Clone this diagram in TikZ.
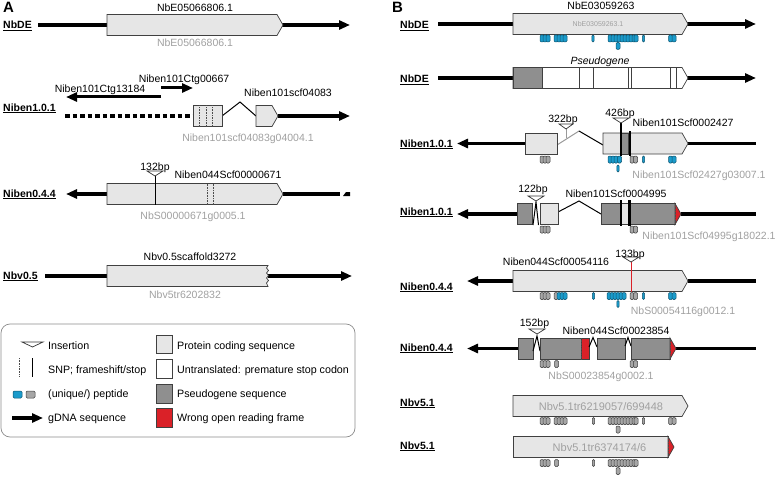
\documentclass[tikz,border=0pt]{standalone}
\usepackage{fontspec}
\setmainfont{Liberation Sans}
\usetikzlibrary{arrows.meta}
\definecolor{cds}{HTML}{E6E6E6}
\definecolor{pseudo}{HTML}{8F8F8F}
\definecolor{wrongorf}{HTML}{DA2128}
\definecolor{pepblue}{HTML}{1B9BCB}
\definecolor{greytxt}{HTML}{A0A0A0}
% gene model with pointed end, plain exon, peptide hits
\newcommand\genebox[4][]{\draw[box,#1] (#2,#4-10.5) -- (#3-6,#4-10.5) -- (#3,#4) -- (#3-6,#4+10.5) -- (#2,#4+10.5) -- cycle;}
\newcommand\exon[4][]{\draw[box,#1] (#2,#4-10.5) rectangle (#3,#4+10.5);}
\newcommand\peps[4][2]{\foreach \px in {#4} {\draw[#2] (\px-#1,#3-3.5) rectangle (\px+#1,#3+3.5);}}
\newcommand\insmark[3][8]{\draw[ins] (#2-#1,#3) -- (#2+#1,#3) -- (#2,#3+5) -- cycle;}
\begin{document}
\begin{tikzpicture}[x=1pt,y=-1pt,
  font=\fontsize{10.5}{12}\selectfont,
  every node/.style={inner sep=0pt,anchor=base},
  box/.style={draw=black!75,line width=0.7pt,fill=cds},
  gdna/.style={line width=3.3pt},
  gtip/.style={-{Triangle[length=11pt,width=9pt]}},
  intron/.style={line width=1pt},
  ins/.style={draw=black!80,line width=0.7pt,fill=white},
  snp/.style={black!70,densely dotted,line width=0.6pt},
  stopline/.style={line width=0.8pt},
  fsline/.style={line width=2.2pt},
  lbl/.style={anchor=base west,font=\fontsize{10.5}{12}\selectfont\bfseries},
  leg/.style={anchor=base west,font=\fontsize{10.7}{13}\selectfont},
  gname/.style={text=greytxt},
  pepb/.style={draw=pepblue!55!black,fill=pepblue,line width=0.5pt,rounded corners=1.2pt},
  pepg/.style={draw=black!75,fill=black!35,line width=0.5pt,rounded corners=1.2pt}]
\useasboundingbox (0,0) rectangle (778,476);

%% panel A
\node[anchor=base west,font=\fontsize{15}{18}\selectfont\bfseries] (panelA) at (3,13) {A};

% NbDE
\draw[gdna,gtip] (38,25) -- (350,25);
\genebox{107}{283}{25}
\node[lbl] (rowA1) at (3,29) {\underline{NbDE}};
\node (topA1) at (195,12) {NbE05066806.1};
\node[gname] (gA1) at (195,47) {NbE05066806.1};

% Niben1.0.1
\draw[gdna,dash pattern=on 4.5pt off 3pt] (65,116) -- (193,116);
\draw[intron] (222,116) -- (240,102) -- (256,116);
\draw[gdna,gtip] (278,116) -- (350,116);
\exon{193}{222}{116}
\foreach \sx in {199,206.5,212} \draw[snp] (\sx,105.5) -- (\sx,126.5);
\genebox{256}{278}{116}
\draw[gdna,gtip,line width=3pt] (161,97) -- (66,97);
\draw[gdna,gtip,line width=3pt] (161,88) -- (193,88);
\node[lbl] (rowA2) at (3,111) {\underline{Niben1.0.1}};
\node (ctgL) at (100,93) {Niben101Ctg13184};
\node (ctgR) at (184,83) {Niben101Ctg00667};
\node (scfA2) at (288,97) {Niben101scf04083};
\node[gname] (gA2) at (248,141) {Niben101scf04083g04004.1};

% Niben0.4.4
\draw[gdna,gtip] (107,194) -- (66,194);
\draw[gdna] (283,194) -- (340,194);
\fill (343,196) -- (346,192) -- (350,192) -- (350,196) -- cycle;
\genebox{107}{283}{194}
\draw[stopline] (155,176) -- (155,204.5);
\foreach \sx in {207,213} \draw[snp] (\sx,183.5) -- (\sx,204.5);
\insmark[8]{155}{171}
\node[lbl] (rowA3) at (3,197) {\underline{Niben0.4.4}};
\node (bpA3) at (155,170) {132bp};
\node (scfA3) at (228,178) {Niben044Scf00000671};
\node[gname] (gA3) at (193,219) {NbS00000671g0005.1};

% Nbv0.5
\draw[gdna] (45,276) -- (107,276);
\draw[gdna,gtip] (268,276) -- (352,276);
\draw[box] (107,265.5) -- (268,265.5) -- (266.5,268) -- (268.5,270.5) -- (266.5,273) -- (268.5,275.5)
  -- (266.5,278) -- (268.5,280.5) -- (266.5,283) -- (268,286.5) -- (107,286.5) -- cycle;
\node[lbl] (rowA4) at (3,279) {\underline{Nbv0.5}};
\node (scfA4) at (190,260) {Nbv0.5scaffold3272};
\node[gname] (gA4) at (185,298) {Nbv5tr6202832};

% legend
\draw[black!45,rounded corners=9pt,line width=0.7pt] (1,324) rectangle (355,437);
\draw[ins] (22,342) -- (43,342) -- (32.5,347) -- cycle;
\draw[snp] (19,358) -- (19,377);
\draw[stopline] (32,358) -- (32,377);
\peps[4.5]{pepb}{394.5}{17.5}
\peps[4.5]{pepg}{394.5}{30.5}
\draw[gdna,gtip] (12,418) -- (43,418);
\draw[box] (156,335) rectangle (172,353);
\draw[box,fill=white] (156,359) rectangle (172,378);
\draw[box,fill=pseudo] (156,384) rectangle (172,403);
\draw[box,fill=wrongorf] (156,408) rectangle (172,427);
\node[leg] (kIns) at (48,349) {Insertion};
\node[leg] (kSnp) at (48,373) {SNP; frameshift/stop};
\node[leg] (kPep) at (48,397) {(unique/) peptide};
\node[leg] (kDna) at (48,421) {gDNA sequence};
\node[leg] (kCds) at (177,349) {Protein coding sequence};
\node[leg] (kUtr) at (177,373) {Untranslated: premature stop codon};
\node[leg] (kPsd) at (177,397) {Pseudogene sequence};
\node[leg] (kOrf) at (177,421) {Wrong open reading frame};

%% panel B
\node[anchor=base west,font=\fontsize{15}{18}\selectfont\bfseries] (panelB) at (392,13) {B};

% NbDE
\draw[gdna,gtip] (438,24) -- (756,24);
\genebox{513}{688}{24}
\peps{pepb}{38.5}{542,545,548, 556,559,562,565, 610,613,616,619,622,625,628,631,634,636, 670.5,674}
\peps[1.2]{pepb}{38.5}{593,643.5}
\peps{pepb}{46}{618}
\node[lbl] (rowB1) at (400,29) {\underline{NbDE}};
\node (scfB1) at (601,10) {NbE03059263};
\node[gname,font=\fontsize{7}{8}\selectfont] (gB1) at (598,27) {NbE03059263.1};

% NbDE pseudogene
\draw[gdna,gtip] (438,78) -- (756,78);
\genebox[fill=white]{513}{688}{78}
\exon[fill=pseudo]{513}{542}{78}
\foreach \vx in {579,593,628,631,670,676} \draw[black!75,line width=0.7pt] (\vx,67.5) -- (\vx,88.5);
\node[lbl] (rowB2) at (400,83) {\underline{NbDE}};
\node[font=\fontsize{10.5}{12}\selectfont\itshape] (psB2) at (600,65) {Pseudogene};

% Niben1.0.1 (Scf0002427)
\draw[gdna,gtip] (525,143.5) -- (457,143.5);
\draw[gdna] (688,143.5) -- (756,143.5);
\draw[intron,black!40] (557,145) -- (579,131);
\draw[intron] (579,131) -- (603,145);
\draw[black!40,line width=1pt] (566,129) -- (566,138);
\exon{525}{557}{143.5}
\genebox{603}{688}{143.5}
\exon[fill=pseudo]{621}{628}{143.5}
\draw[fsline] (621,123) -- (621,155.5);
\draw[fsline] (630,131) -- (630,155.5);
\insmark[7]{566}{124}
\insmark[8]{621}{118}
\peps{pepg}{159.5}{542,545,548, 632,635.5}
\peps{pepb}{159.5}{610,613,616,619.5, 670.5,674}
\peps[1.2]{pepb}{159.5}{643.5}
\peps[1.2]{pepb}{168.5}{618}
\node[lbl] (rowB3) at (400,147) {\underline{Niben1.0.1}};
\node (bpB3a) at (563,122) {322bp};
\node (bpB3b) at (620,116.5) {426bp};
\node (scfB3) at (683,126) {Niben101Scf0002427};
\node[gname] (gB3) at (699,178) {Niben101Scf02427g03007.1};

% Niben1.0.1 (Scf0004995)
\draw[gdna,gtip] (517,214) -- (457,214);
\draw[gdna] (681,214) -- (756,214);
\draw[intron] (558,212) -- (579,201) -- (601,214);
\exon[fill=pseudo]{517}{532}{214}
\draw[intron] (533,225) -- (536,202) -- (538.5,225);
\exon{540}{558}{214}
\exon[fill=pseudo]{601}{675}{214}
\exon{621}{629}{214}
\draw[box,fill=wrongorf] (675,203.5) -- (681,214) -- (675,224.5) -- cycle;
\draw[snp] (675,203.5) -- (675,224.5);
\draw[fsline] (621,200) -- (621,225.5);
\draw[fsline] (629.5,200) -- (629.5,225.5);
\insmark[8]{536}{196}
\peps{pepg}{229.5}{542,545,548, 632,635.5}
\node[lbl] (rowB4) at (400,215) {\underline{Niben1.0.1}};
\node (bpB4) at (533,192) {122bp};
\node (scfB4) at (616,197) {Niben101Scf0004995};
\node[gname] (gB4) at (709,239) {Niben101Scf04995g18022.1};

% Niben0.4.4 (Scf00054116)
\draw[gdna,gtip] (513,281) -- (467,281);
\draw[gdna] (688,281) -- (756,281);
\genebox{513}{688}{281}
\draw[wrongorf,line width=0.8pt] (631,262) -- (631,291.5);
\insmark[8]{631}{257}
\peps{pepg}{296}{542,545,548, 556, 632,635.5}
\peps{pepb}{296}{559,562,565, 609,612,615,618,621,624, 670.5,674}
\peps[1.2]{pepb}{296}{593.5,643.5}
\peps[1.2]{pepb}{304}{618}
\node[lbl] (rowB5) at (400,290) {\underline{Niben0.4.4}};
\node (bpB5) at (630,257) {133bp};
\node (scfB5) at (556,265) {Niben044Scf00054116};
\node[gname] (gB5) at (683,314) {NbS00054116g0012.1};

% Niben0.4.4 (Scf00023854)
\draw[gdna,gtip] (518,348.5) -- (467,348.5);
\draw[gdna] (676,348.5) -- (756,348.5);
\exon[fill=pseudo]{518}{533}{348.5}
\draw[intron] (533,351) -- (537,336) -- (540,351);
\exon[fill=pseudo]{540}{581}{348.5}
\exon[fill=wrongorf]{581}{589}{348.5}
\draw[snp] (581,338) -- (581,359);
\draw[intron] (589,347) -- (593,337.5) -- (597,347);
\exon[fill=pseudo]{597}{625}{348.5}
\draw[intron] (625,346) -- (628,337.5) -- (631,346);
\exon[fill=pseudo]{631}{670}{348.5}
\draw[box,fill=wrongorf] (670,338) -- (676,348.5) -- (670,359) -- cycle;
\draw[snp] (670,338) -- (670,359);
\insmark[8]{537}{329}
\peps{pepg}{364}{542,545,548, 556.5, 632,635.5}
\node[lbl] (rowB6) at (400,351) {\underline{Niben0.4.4}};
\node (bpB6) at (534.5,326) {152bp};
\node (scfB6) at (616,334) {Niben044Scf00023854};
\node[gname] (gB6) at (601,379) {NbS00023854g0002.1};

% Nbv5.1
\genebox{513}{688}{406}
\peps{pepg}{421}{542,545,548, 556,559,562,565, 610,613,616,619,622,625,628,631,634,636, 670.5,674}
\peps[1.2]{pepg}{421}{593.5,643.5}
\peps{pepg}{429.5}{618}
\node[lbl] (rowB7) at (400,406) {\underline{Nbv5.1}};
\node[gname,font=\fontsize{11}{13}\selectfont] (gB7) at (601,410) {Nbv5.1tr6219057/699448};

% Nbv5.1
\exon{513}{668}{447}
\draw[box,fill=wrongorf] (668,436.5) -- (674,447) -- (668,457.5) -- cycle;
\draw[snp] (668,436.5) -- (668,457.5);
\peps{pepg}{463}{542,545,548, 556.5, 610,613,616,619,622,625,628,631,634,636}
\peps[1.2]{pepg}{463}{593.5}
\peps{pepg}{471}{618}
\node[lbl] (rowB8) at (400,449) {\underline{Nbv5.1}};
\node[gname,font=\fontsize{11}{13}\selectfont] (gB8) at (599.5,451) {Nbv5.1tr6374174/6};
\end{tikzpicture}
\end{document}
